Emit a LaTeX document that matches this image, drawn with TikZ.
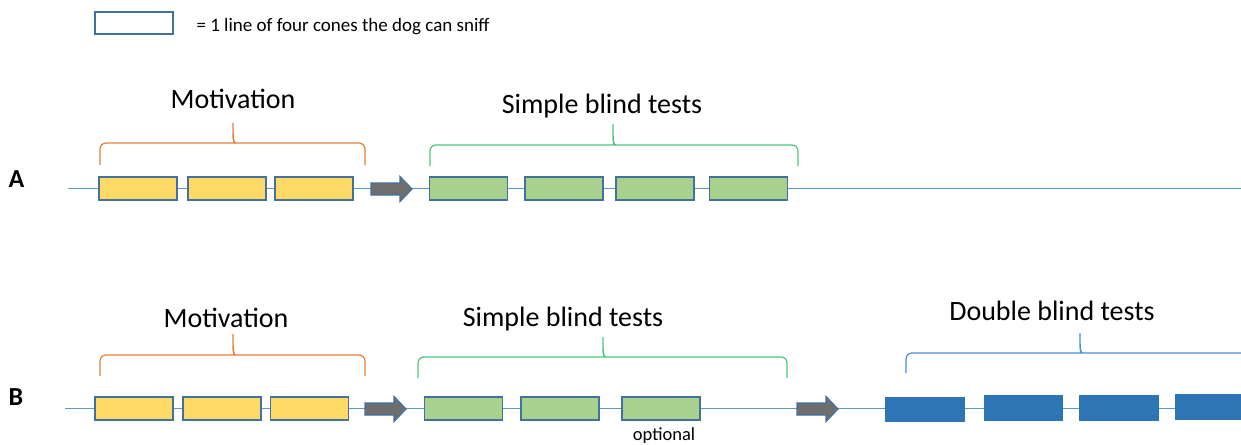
\documentclass[tikz,border=0pt]{standalone}
\usepackage{fontspec}
\setmainfont{Carlito}
\usepackage{tikz}
\usetikzlibrary{calc}
\definecolor{cellborder}{HTML}{41719C}
\definecolor{motfill}{HTML}{FFD966}
\definecolor{simfill}{HTML}{A9D18E}
\definecolor{dblfill}{HTML}{2E75B6}
\definecolor{timeline}{HTML}{5B9BD5}
\definecolor{motbrace}{HTML}{E07F3A}
\definecolor{simbrace}{HTML}{4CC47E}
\definecolor{dblbrace}{HTML}{4A8FD0}
\definecolor{arrowgray}{HTML}{6E6E6E}
\newcommand{\phasebrace}[7]{%
  \draw[bracestyle,#1] (#2,#5) [rounded corners=6pt] -- (#2,#6) -- ({#4-3},#6)
    [sharp corners] .. controls ({#4-0.5},#6) and (#4,{#6-3}) .. (#4,#7)
    .. controls (#4,{#6-3}) and ({#4+0.5},#6) .. ({#4+3},#6)
    [rounded corners=6pt] -- (#3,#6) -- (#3,#5);}

\begin{document}
\begin{tikzpicture}[
      x=1pt, y=-1pt,
      cell/.style={draw=cellborder, line width=1.6pt, minimum width=78pt, minimum height=23pt, inner sep=0},
      motbox/.style={cell, fill=motfill},
      simbox/.style={cell, fill=simfill},
      dblbox/.style={cell, draw=dblfill, fill=dblfill, minimum height=24pt},
      legendbox/.style={cell, fill=white, minimum height=22pt},
      line/.style={draw=timeline, line width=0.9pt},
      bracestyle/.style={line width=1.2pt},
      phase/.style={anchor=base, font=\fontsize{28}{32}\selectfont},
      note/.style={anchor=base west, font=\fontsize{18.5}{22}\selectfont},
      rowlab/.style={anchor=base west, font=\fontsize{26}{30}\selectfont\bfseries},
      blockarrow/.pic={
        \draw[fill=arrowgray, draw=cellborder, line width=1.2pt]
          (0,-6) -- (29,-6) -- (29,-12.5) -- (41,0) -- (29,12.5) -- (29,6) -- (0,6) -- cycle;
      }
  ]
  \useasboundingbox (0,0) rectangle (1241,444);

  % legend
  \node[legendbox] (legend) at (134,23) {};
  \node[note, font=\fontsize{19}{22}\selectfont] (legendtext) at (193,32) {= 1 line of four cones the dog can sniff};

  % row A
  \coordinate (lineAstart) at (68,188);
  \coordinate (lineAend) at (1241,188);
  \draw[line] (lineAstart) -- (lineAend);
  \node[rowlab] (labA) at (5,187) {A};
  \foreach \x [count=\i] in {138,227,314} {
    \node[motbox] (mA\i) at (\x,188.5) {};
  }
  \pic at (371,189) {blockarrow};
  \foreach \x [count=\i] in {468.5,564,655,748.5} {
    \node[simbox] (sA\i) at (\x,188.5) {};
  }
  \phasebrace{motbrace}{100}{365}{233}{165}{143}{123}
  \phasebrace{simbrace}{430}{798}{613}{166}{145}{124}
  \node[phase] (motA) at (233,108) {Motivation};
  \node[phase] (simA) at (602,113) {Simple blind tests};

  % row B
  \coordinate (lineBstart) at (65,408);
  \coordinate (lineBend) at (1241,408);
  \draw[line] (lineBstart) -- (lineBend);
  \node[rowlab] (labB) at (5,405) {B};
  \foreach \x [count=\i] in {134,222,309.5} {
    \node[motbox] (mB\i) at (\x,408.5) {};
  }
  \pic at (365,409) {blockarrow};
  \foreach \x [count=\i] in {463.5,560,661} {
    \node[simbox] (sB\i) at (\x,408.7) {};
  }
  \pic at (797,409) {blockarrow};
  \foreach \x/\y [count=\i] in {925/409.5,1023.5/408,1119/408,1215/407} {
    \node[dblbox] (dB\i) at (\x,\y) {};
  }
  \phasebrace{motbrace}{100}{365}{233}{376}{355}{334}
  \phasebrace{simbrace}{418}{787}{603}{378}{357}{337}
  \phasebrace{dblbrace}{906}{1300}{1080}{373}{353}{333}
  \node[phase] (motB) at (226,327) {Motivation};
  \node[phase] (simB) at (563,326) {Simple blind tests};
  \node[phase] (dblB) at (1052,320) {Double blind tests};
  \node[note, anchor=base] (opt) at (664,440) {optional};
\end{tikzpicture}
\end{document}
